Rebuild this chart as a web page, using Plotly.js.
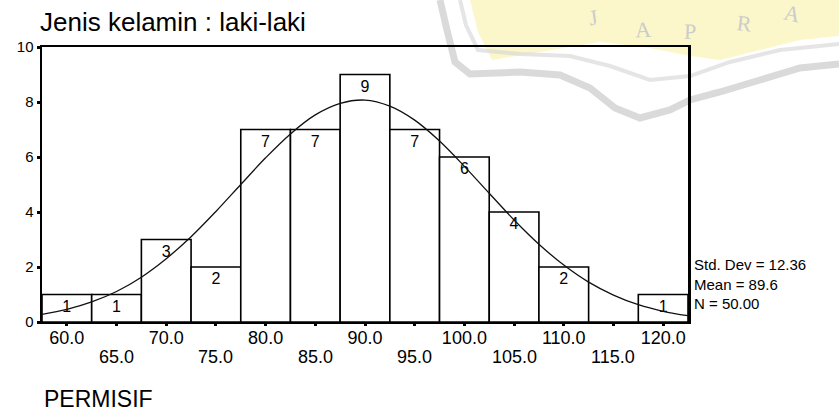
<!DOCTYPE html>
<html>
<head>
<meta charset="utf-8">
<script src="https://cdn.plot.ly/plotly-3.0.1.min.js"></script>
<style>html,body{margin:0;padding:0;background:#fff;}#chart{width:839px;height:411px;}</style>
</head>
<body>
<div id="chart"></div>
<script>
// ---- data ----
const binCenters = [60, 65, 70, 75, 80, 85, 90, 95, 100, 105, 110, 115, 120];
const counts = [1, 1, 3, 2, 7, 7, 9, 7, 6, 4, 2, 0, 1];
const xTickLabels = ['60.0','65.0','70.0','75.0','80.0','85.0','90.0','95.0','100.0','105.0','110.0','115.0','120.0'];
const yTickVals = [0, 2, 4, 6, 8, 10];
// normal curve (every 2.5 units)
const curveX = [57.5,60,62.5,65,67.5,70,72.5,75,77.5,80,82.5,85,87.5,90,92.5,95,97.5,100,102.5,105,107.5,110,112.5,115,117.5,120,122.5];
const curveY = [0.28,0.46,0.73,1.11,1.63,2.30,3.10,4.02,5.00,5.97,6.84,7.53,7.95,8.07,7.85,7.34,6.58,5.66,4.68,3.71,2.83,2.07,1.45,0.98,0.63,0.39,0.23];
const statsLines = ['Std. Dev = 12.36', 'Mean = 89.6', 'N = 50.00'];
const titleText = 'Jenis kelamin : laki-laki';
const xLabel = 'PERMISIF';
const watermarkLetters = ['J', 'A', 'P', 'R', 'A'];

// ---- geometry helpers (pixel -> paper) ----
const PL = 42, PR = 688, PT = 47, PB = 322;
const px = x => (x - PL) / (PR - PL);
const py = y => (PB - y) / (PB - PT);

const FONT = '"Liberation Sans", Arial, sans-serif';

const bars = {
  type: 'bar',
  x: binCenters,
  y: counts,
  width: 5,
  marker: { color: 'rgba(255,255,255,1)', line: { color: '#000', width: 1.6 } },
  text: counts.map(c => c ? String(c) : ''),
  textposition: 'inside',
  insidetextanchor: 'end',
  constraintext: 'none',
  textangle: 0,
  textfont: { family: FONT, size: 16, color: '#000' },
  hoverinfo: 'skip',
  showlegend: false
};

const curve = {
  type: 'scatter',
  mode: 'lines',
  x: curveX,
  y: curveY,
  line: { color: '#111', width: 1.3, shape: 'spline' },
  hoverinfo: 'skip',
  showlegend: false
};

const annotations = [];
// second-row tick labels (odd bins)
binCenters.forEach((c, i) => {
  if (i % 2 === 1) {
    annotations.push({
      x: c, xref: 'x', y: py(357), yref: 'paper',
      text: xTickLabels[i], showarrow: false,
      font: { family: FONT, size: 18, color: '#000' },
      xanchor: 'center', yanchor: 'middle'
    });
  }
});
annotations.push({
  x: px(42), xref: 'paper', y: py(399), yref: 'paper',
  text: xLabel, showarrow: false, xanchor: 'left', yanchor: 'middle',
  font: { family: FONT, size: 23, color: '#000' }
});
annotations.push({
  x: px(692), xref: 'paper', y: py(284), yref: 'paper',
  text: statsLines.join('<br>'), showarrow: false, xanchor: 'left', yanchor: 'middle', align: 'left',
  font: { family: FONT, size: 15, color: '#000' }
});
// watermark letters
const wmPos = [[593, 18], [643, 29], [690, 31], [745, 23], [792, 14]];
watermarkLetters.forEach((L, i) => {
  annotations.push({
    x: px(wmPos[i][0]), xref: 'paper', y: py(wmPos[i][1]), yref: 'paper',
    text: L, showarrow: false, xanchor: 'center', yanchor: 'middle',
    font: { family: '"Liberation Serif", serif', size: 22, color: '#cccccc' },
    textangle: -8 + i * 5
  });
});

function pathFromPx(pts) {
  return 'M ' + pts.map(p => px(p[0]).toFixed(4) + ',' + py(p[1]).toFixed(4)).join(' L ') + ' Z';
}
function openPath(pts) {
  return 'M ' + pts.map(p => px(p[0]).toFixed(4) + ',' + py(p[1]).toFixed(4)).join(' L ');
}

const shapes = [
  { type: 'path', xref: 'paper', yref: 'paper', layer: 'below',
    path: pathFromPx([[470,0],[839,0],[839,36],[800,40],[760,50],[720,60],[690,56],[650,48],[600,42],[540,52],[492,60],[478,32]]),
    fillcolor: 'rgba(251,246,196,0.9)', line: { width: 0 } },
  { type: 'path', xref: 'paper', yref: 'paper', layer: 'below',
    path: openPath([[440,0],[447,30],[455,62],[470,74],[520,72],[560,75],[590,88],[615,108],[640,118],[670,110],[690,100],[720,92],[760,80],[800,68],[839,64]]),
    line: { color: 'rgba(205,205,205,0.75)', width: 7 } },
  { type: 'path', xref: 'paper', yref: 'paper', layer: 'below',
    path: openPath([[460,0],[466,25],[478,50],[520,54],[570,56],[610,66],[650,80],[690,76],[730,62],[780,50],[839,44]]),
    line: { color: 'rgba(215,215,215,0.65)', width: 4 } }
];

const layout = {
  width: 839, height: 411,
  margin: { l: PL, r: 839 - PR, t: PT, b: 411 - PB, pad: 0 },
  paper_bgcolor: '#fff',
  plot_bgcolor: 'rgba(0,0,0,0)',
  font: { family: FONT, color: '#000', size: 13 },
  title: { text: titleText, x: 40 / 839, xref: 'container', xanchor: 'left',
           y: 1 - 22 / 411, yref: 'container', yanchor: 'middle',
           font: { family: FONT, size: 26, color: '#000' } },
  bargap: 0,
  xaxis: {
    range: [57.5, 122.5], showgrid: false, zeroline: false,
    showline: true, linecolor: '#000', linewidth: 2, mirror: true,
    tickmode: 'array', tickvals: binCenters,
    ticktext: xTickLabels.map((t, i) => i % 2 === 0 ? t : ''),
    ticks: 'outside', ticklen: 2, tickwidth: 3, tickcolor: '#000',
    ticklabelstandoff: -4,
    tickfont: { family: FONT, size: 18, color: '#000' }
  },
  yaxis: {
    range: [0, 10], showgrid: false, zeroline: false,
    showline: true, linecolor: '#000', linewidth: 2.5, mirror: true,
    tickmode: 'array', tickvals: yTickVals, ticktext: yTickVals.map(String),
    ticks: 'outside', ticklen: 3, tickwidth: 3, tickcolor: '#000',
    tickfont: { family: FONT, size: 15, color: '#000' }
  },
  annotations: annotations,
  shapes: shapes
};

Plotly.newPlot('chart', [bars, curve], layout, { staticPlot: true, displayModeBar: false });
</script>
</body>
</html>
